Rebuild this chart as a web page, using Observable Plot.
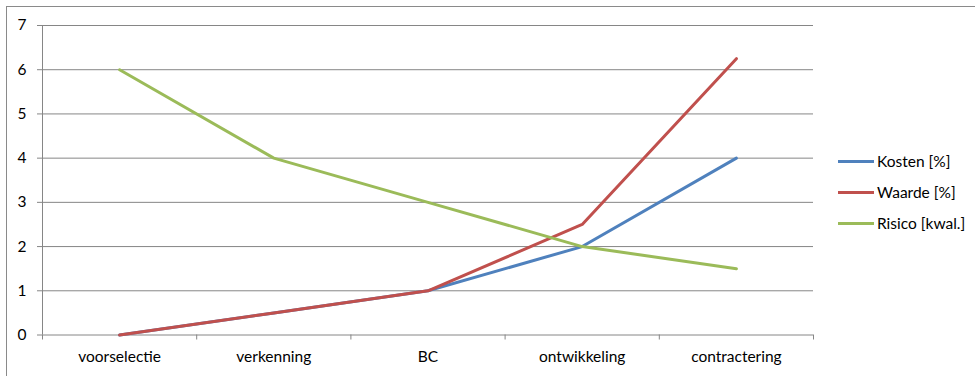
<!DOCTYPE html>
<html>
<head>
<meta charset="utf-8">
<script src="https://cdn.jsdelivr.net/npm/d3@7"></script>
<script src="https://cdn.jsdelivr.net/npm/@observablehq/plot@0.6"></script>
<style>
  html, body { margin: 0; padding: 0; background: #fff; overflow: hidden; }
  #wrap { position: relative; width: 975px; height: 376px; font-family: Lato, "Open Sans", sans-serif; }
  #border { position: absolute; left: 6px; top: 6px; width: 1000px; height: 400px; border: 1px solid #8a8a8a; box-sizing: border-box; }
  #chart { position: absolute; left: 0; top: 0; }
  #legend { position: absolute; left: 838px; top: 0; font-size: 15.5px; color: #000; }
  .item { position: absolute; left: 0; white-space: nowrap; display: flex; align-items: center; height: 20px; }
  .swatch { width: 36px; height: 3px; margin-right: 3px; }
</style>
</head>
<body>
<div id="wrap">
  <div id="border"></div>
  <div id="chart"></div>
  <div id="legend"></div>
</div>
<script>
const categories = ["voorselectie", "verkenning", "BC", "ontwikkeling", "contractering"];
const seriesNames = ["Kosten [%]", "Waarde [%]", "Risico [kwal.]"];
const seriesColors = ["#4F81BD", "#C0504D", "#9BBB59"];
const kosten = [0, 0.5, 1, 2, 4];
const waarde = [0, 0.5, 1, 2.5, 6.25];
const risico = [6, 4, 3, 2, 1.5];
const yTicks = [0, 1, 2, 3, 4, 5, 6, 7];

const values = [kosten, waarde, risico];
const data = seriesNames.flatMap((s, k) => values[k].map((v, i) => ({series: s, i, v})));
const boundaries = categories.map((_, i) => i - 0.5).concat([categories.length - 0.5]);
const centers = categories.map((_, i) => i);

const chart = Plot.plot({
  width: 975,
  height: 376,
  marginLeft: 42,
  marginRight: 162,
  marginTop: 25,
  marginBottom: 41.5,
  style: {fontFamily: "Lato, 'Open Sans', sans-serif", fontSize: "15.5px", color: "#000", background: "transparent", overflow: "visible"},
  x: {type: "linear", domain: [-0.5, categories.length - 0.5], label: null},
  y: {domain: [0, 7], label: null},
  color: {domain: seriesNames, range: seriesColors},
  marks: [
    Plot.gridY(yTicks, {stroke: "#868686", strokeOpacity: 1, strokeWidth: 1}),
    Plot.ruleX([-0.5], {stroke: "#868686", strokeWidth: 1}),
    Plot.axisY({ticks: yTicks, tickSize: 5, tickPadding: 11, stroke: "#868686", strokeOpacity: 1, label: null, tickFormat: d => String(d)}),
    Plot.axisX({ticks: boundaries, tickSize: 5, stroke: "#868686", strokeOpacity: 1, tickFormat: () => "", label: null}),
    Plot.axisX({ticks: centers, tickSize: 0, tickPadding: 16, tickFormat: i => categories[i], label: null}),
    Plot.line(data, {x: "i", y: "v", z: "series", stroke: "series", strokeWidth: 3, strokeLinejoin: "round", strokeLinecap: "round"})
  ]
});
document.getElementById("chart").appendChild(chart);

const legend = document.getElementById("legend");
const legendY = [161, 192, 223];
seriesNames.forEach((s, k) => {
  const item = document.createElement("div");
  item.className = "item";
  item.style.top = (legendY[k] - 10) + "px";
  const sw = document.createElement("span");
  sw.className = "swatch";
  sw.style.background = seriesColors[k];
  const t = document.createElement("span");
  t.textContent = s;
  item.appendChild(sw);
  item.appendChild(t);
  legend.appendChild(item);
});
</script>
</body>
</html>
